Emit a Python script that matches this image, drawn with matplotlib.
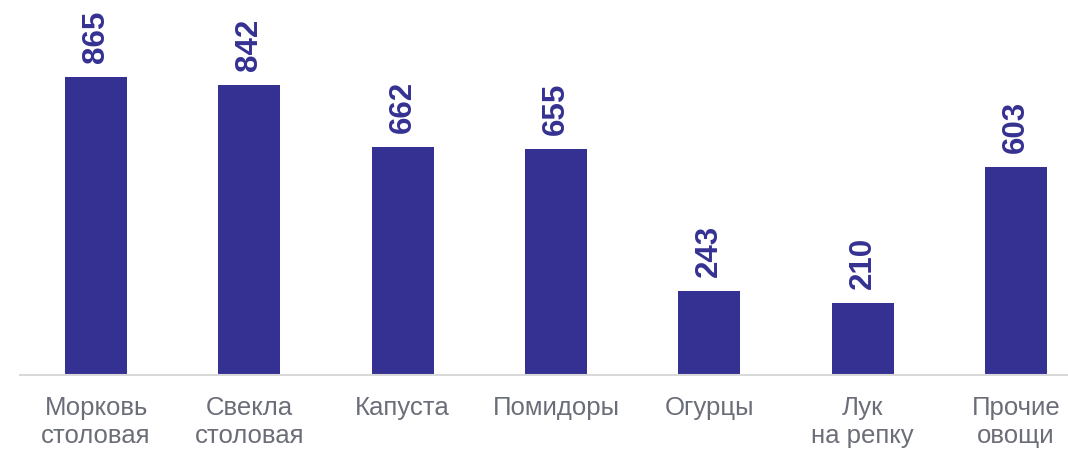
import matplotlib
matplotlib.use("Agg")
import matplotlib.pyplot as plt

categories = ["Морковь\nстоловая", "Свекла\nстоловая", "Капуста", "Помидоры",
              "Огурцы", "Лук\nна репку", "Прочие\nовощи"]
values = [865, 842, 662, 655, 243, 210, 603]

W, H, DPI = 1068, 451, 100
fig = plt.figure(figsize=(W / DPI, H / DPI), dpi=DPI)
plt.rcParams['font.family'] = ['Liberation Sans', 'DejaVu Sans']

left_px, right_px, base_px = 20, 1068, 375
ax = fig.add_axes([left_px / W, (H - base_px) / H, (right_px - left_px) / W, base_px / H])

bar_color = "#353192"
x = list(range(len(categories)))
ax.bar(x, values, width=0.404, color=bar_color, zorder=2)

spacing = 153.33
ax.set_xlim((left_px - 96) / spacing, (right_px - 96) / spacing)
ax.set_ylim(0, 1088)

for xi, v in zip(x, values):
    ax.annotate(str(v), (xi, v), xytext=(0, 10), textcoords="offset points",
                ha="center", va="bottom", rotation=90, fontsize=22.5,
                fontweight="bold", color=bar_color)

for s in ["top", "right", "left"]:
    ax.spines[s].set_visible(False)
ax.spines["bottom"].set_color("#d9d9d9")
ax.spines["bottom"].set_linewidth(1.5)
ax.set_yticks([])
ax.set_xticks(x)
ax.set_xticklabels(categories, fontsize=18.5, color="#6b6e78", linespacing=1.2)
ax.tick_params(axis="x", length=0, pad=15)

fig.savefig("out.png", dpi=DPI)
